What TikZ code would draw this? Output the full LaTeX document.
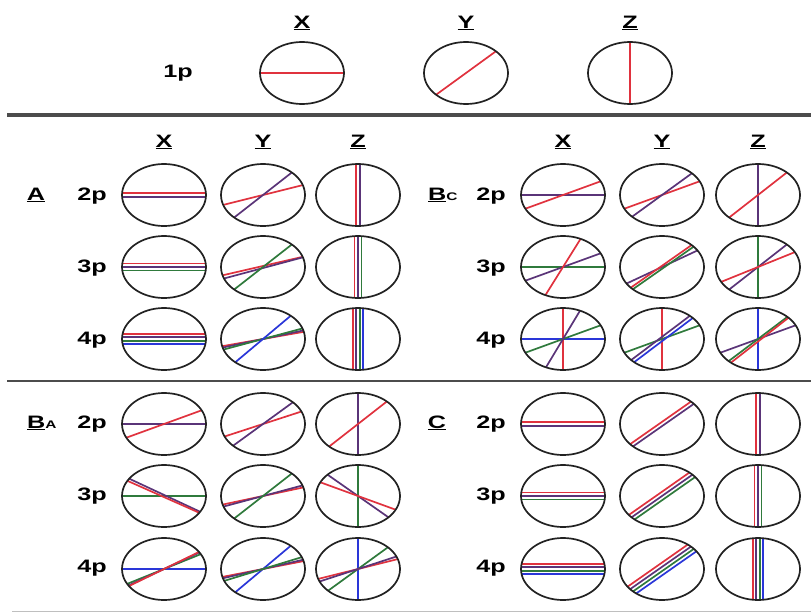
\documentclass[tikz,border=0pt]{standalone}
\usepackage{fontspec}
\setmainfont{Liberation Sans}
\newfontfamily\widefont[FakeStretch=1.4]{Liberation Sans}
\usepackage{tikz}
\definecolor{lred}{HTML}{E0323E}
\definecolor{lpurple}{HTML}{5A3478}
\definecolor{lgreen}{HTML}{2F7A3C}
\definecolor{lblue}{HTML}{2A36D8}
\definecolor{rimgray}{HTML}{222222}

% one disc: centre x, centre y, list of angle/offset/colour
\newcommand{\sectdisc}[3]{%
  \begin{scope}[shift={(#1,#2)}]
    \begin{scope}
      \clip (0,0) ellipse [x radius=42, y radius=31];
      \foreach \ang/\off/\col in {#3}
        \draw[chord, draw=\col, rotate=\ang] (-50,\off) -- (50,\off);
    \end{scope}
    \draw[rim] (0,0) ellipse [x radius=42, y radius=31];
  \end{scope}}

\begin{document}
\begin{tikzpicture}[
    x=1pt, y=-1pt,
    lab/.style={font=\widefont\fontsize{18}{20}\selectfont\bfseries, inner sep=0pt, anchor=base},
    sublab/.style={font=\widefont\fontsize{18}{20}\selectfont\bfseries, inner sep=0pt, anchor=base west},
    chord/.style={line width=1.7pt},
    rim/.style={line width=1.7pt, draw=rimgray},
    sepLine/.style={draw=gray!60!black}
]
    \useasboundingbox (0,0) rectangle (811,613);

    % Riga singola 1p
    \node[lab] (topX) at (302,28) {\underline{X}};
    \node[lab] (topY) at (466,28) {\underline{Y}};
    \node[lab] (topZ) at (630,28) {\underline{Z}};
    \node[lab] (oneP) at (178,77) {1p};
    \sectdisc{302}{73}{0/0/lred}
    \sectdisc{466}{73}{36/0/lred}
    \sectdisc{630}{73}{90/0/lred}

    % Separatori
    \draw[sepLine, line width=4pt] (7,115) -- (811,115);
    \draw[sepLine, line width=2.4pt] (7,381) -- (811,381);
    \draw[draw=gray!50, line width=1pt] (12,611.5) -- (811,611.5);

    % Intestazioni colonne
    \node[lab] (aX) at (164,147) {\underline{X}};
    \node[lab] (aY) at (263,147) {\underline{Y}};
    \node[lab] (aZ) at (358,147) {\underline{Z}};
    \node[lab] (bX) at (563,147) {\underline{X}};
    \node[lab] (bY) at (662,147) {\underline{Y}};
    \node[lab] (bZ) at (758,147) {\underline{Z}};

    % Pannello A
    \node[lab] (panA) at (36,200) {\underline{A}};
    \node[lab] (a2) at (92,200) {2p};
    \node[lab] (a3) at (92,272) {3p};
    \node[lab] (a4) at (92,344) {4p};
    \sectdisc{164}{195}{0/-1.75/lred, 0/1.75/lpurple}
    \sectdisc{263}{195}{14/0/lred, 38/0/lpurple}
    \sectdisc{358}{195}{90/-1.75/lred, 90/1.75/lpurple}
    \sectdisc{164}{267}{0/-3.5/lred, 0/0/lpurple, 0/3.5/lgreen}
    \sectdisc{263}{267}{13/-1/lred, 15/1/lpurple, 38/0/lgreen}
    \sectdisc{358}{267}{90/-3.5/lred, 90/0/lpurple, 90/3.5/lgreen}
    \sectdisc{164}{339}{0/-5.25/lred, 0/-1.75/lpurple, 0/1.75/lgreen, 0/5.25/lblue}
    \sectdisc{263}{339}{10/0/lred, 12/0/lpurple, 15/0/lgreen, 40/0/lblue}
    \sectdisc{358}{339}{90/-5.25/lred, 90/-1.75/lpurple, 90/1.75/lgreen, 90/5.25/lblue}

    % Pannello B_C
    \node[sublab] (panBc) at (428,200) {\underline{B}{\fontsize{11}{11}\selectfont C}};
    \node[lab] (b2) at (491,200) {2p};
    \node[lab] (b3) at (491,272) {3p};
    \node[lab] (b4) at (491,344) {4p};
    \sectdisc{563}{195}{0/0/lpurple, 20/0/lred}
    \sectdisc{662}{195}{20/0/lred, 36/0/lpurple}
    \sectdisc{758}{195}{90/0/lpurple, 38/0/lred}
    \sectdisc{563}{267}{0/0/lgreen, 20/0/lpurple, 58/0/lred}
    \sectdisc{662}{267}{25/0/lpurple, 35/-1/lred, 35/1.5/lgreen}
    \sectdisc{758}{267}{90/0/lgreen, 38/0/lpurple, 22/0/lred}
    \sectdisc{563}{339}{0/0/lblue, 90/0/lred, 20/0/lgreen, 59/0/lpurple}
    \sectdisc{662}{339}{90/0/lred, 20/0/lgreen, 37/-1.75/lpurple, 37/1.75/lblue}
    \sectdisc{758}{339}{90/0/lblue, 20/0/lpurple, 37/0/lgreen, 38/2/lred}

    % Pannello B_A
    \node[sublab] (panBa) at (27,428) {\underline{B}{\fontsize{11}{11}\selectfont A}};
    \node[lab] (c2) at (92,428) {2p};
    \node[lab] (c3) at (92,500) {3p};
    \node[lab] (c4) at (92,572) {4p};
    \sectdisc{164}{424}{0/0/lpurple, 20/0/lred}
    \sectdisc{263}{424}{18/0/lred, 36/0/lpurple}
    \sectdisc{358}{424}{90/0/lpurple, 38/0/lred}
    \sectdisc{164}{496}{0/0/lgreen, -25/-1/lpurple, -24/1/lred}
    \sectdisc{263}{496}{12/0/lred, 15/0/lpurple, 38/0/lgreen}
    \sectdisc{358}{496}{90/0/lgreen, -35/0/lpurple, -20/0/lred}
    \sectdisc{164}{569}{0/0/lblue, 22/0/lgreen, 25/0/lpurple, 26/0/lred}
    \sectdisc{263}{569}{40/0/lblue, 11/0/lred, 13/0/lpurple, 17/0/lgreen}
    \sectdisc{358}{569}{90/0/lblue, 36/0/lgreen, 14/0/lred, 18/0/lpurple}

    % Pannello C
    \node[lab] (panC) at (437,428) {\underline{C}};
    \node[lab] (d2) at (491,428) {2p};
    \node[lab] (d3) at (491,500) {3p};
    \node[lab] (d4) at (491,572) {4p};
    \sectdisc{563}{424}{0/-1.75/lred, 0/1.75/lpurple}
    \sectdisc{662}{424}{35/-1.75/lred, 35/1.75/lpurple}
    \sectdisc{758}{424}{90/-1.75/lred, 90/1.75/lpurple}
    \sectdisc{563}{496}{0/-3.5/lred, 0/0/lpurple, 0/3.5/lgreen}
    \sectdisc{662}{496}{35/-3.5/lred, 35/0/lpurple, 35/3.5/lgreen}
    \sectdisc{758}{496}{90/-3.5/lred, 90/0/lpurple, 90/3.5/lgreen}
    \sectdisc{563}{569}{0/-5.25/lred, 0/-1.75/lpurple, 0/1.75/lgreen, 0/5.25/lblue}
    \sectdisc{662}{569}{35/-5.25/lred, 35/-1.75/lpurple, 35/1.75/lgreen, 35/5.25/lblue}
    \sectdisc{758}{569}{90/-5.25/lred, 90/-1.75/lpurple, 90/1.75/lgreen, 90/5.25/lblue}
\end{tikzpicture}
\end{document}
